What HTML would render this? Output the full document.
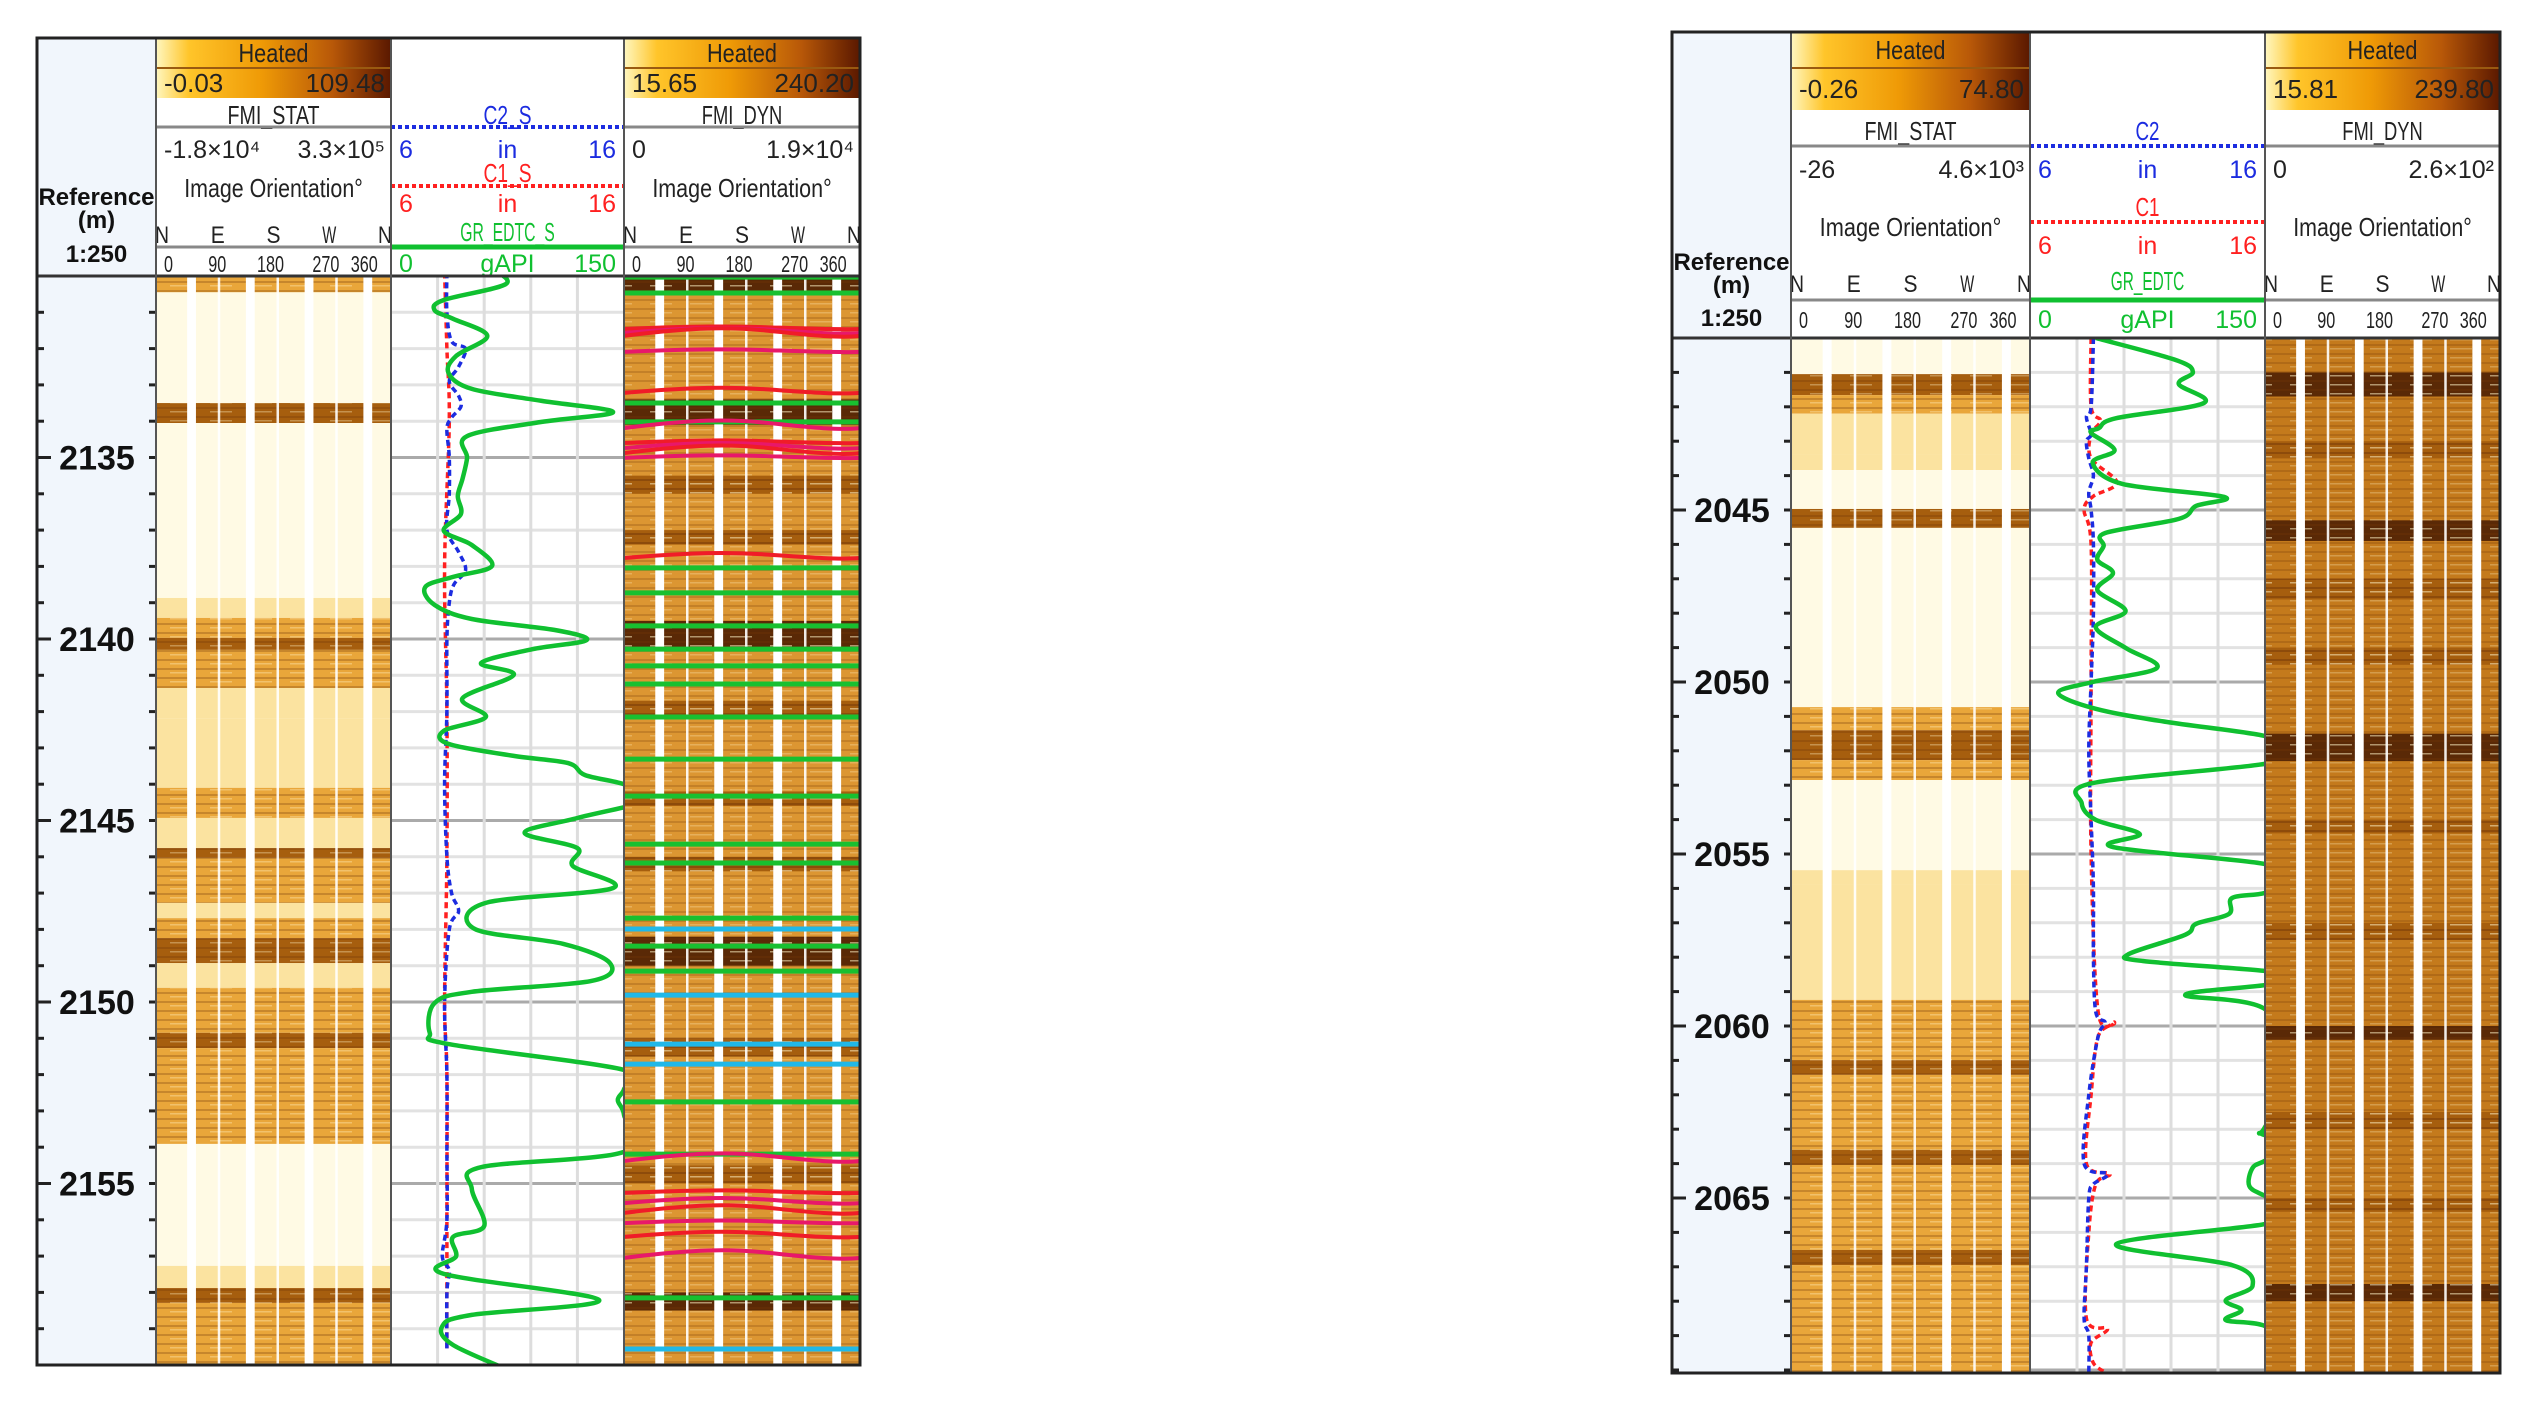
<!DOCTYPE html>
<html><head><meta charset="utf-8"><style>
html,body{margin:0;padding:0;background:#fff;}
svg{display:block;font-family:"Liberation Sans",sans-serif;}
</style></head><body>
<svg id="chart" xmlns="http://www.w3.org/2000/svg" width="2535" height="1404" viewBox="0 0 2535 1404">
<defs>
<linearGradient id="heat" x1="0" x2="1" y1="0" y2="0">
<stop offset="0" stop-color="#fff7c0"/><stop offset="0.14" stop-color="#ffc52a"/><stop offset="0.45" stop-color="#ef9a06"/><stop offset="0.75" stop-color="#b85808"/><stop offset="1" stop-color="#5a1800"/>
</linearGradient>
<pattern id="tex" width="40" height="9" patternUnits="userSpaceOnUse">
<rect x="0" y="2" width="40" height="2" fill="#6a3208" opacity="0.28"/>
<rect x="10" y="6" width="22" height="1.5" fill="#fff4c8" opacity="0.35"/>
</pattern>
</defs>
</svg>
<script>
// ---------- LEFT PANEL DATA (depth m) ----------
const grDepthL = [2129.78,2130.22,2130.66,2130.94,2131.18,2131.65,2132.20,2132.67,2133.11,2133.44,2133.75,2134.02,2134.41,2135.01,2135.59,2136.06,2136.56,2137.02,2137.41,2137.99,2138.29,2138.57,2139.06,2139.45,2139.75,2140.03,2140.28,2140.66,2140.99,2141.63,2142.15,2142.53,2142.89,2143.22,2143.42,2143.75,2144.00,2144.38,2144.93,2145.34,2145.76,2146.25,2146.86,2147.27,2147.99,2148.40,2148.93,2149.42,2149.72,2150.03,2150.85,2151.16,2151.87,2152.4,2152.7,2153.11,2154.13,2154.55,2155.15,2156.17,2156.47,2157.00,2157.49,2158.21,2158.62,2158.93,2159.45,2160.25];
const grValL   = [64,74,34,28,40,62,42,37,52,97,143,97,49,49,46,43,45,34,52,65,40,22,28,52,105,126,91,58,79,46,61,34,37,79,114,125,150,170,120,86,120,117,143,61,54,111,141,129,52,28,25,37,150,150,146,150,150,58,52,60,40,42,34,134,52,33,40,82];
const c2DepthL = [2129.9,2131,2131.8,2132,2132.5,2132.9,2133.3,2133.6,2133.9,2134.2,2135,2136,2137,2137.6,2138.1,2138.5,2139,2140,2142,2144,2146,2147,2147.5,2148,2150,2152,2154,2156,2157,2157.4,2158,2159.6];
const c2ValL   = [8.4,8.4,8.6,9.2,8.9,8.5,8.9,9.0,8.6,8.4,8.5,8.5,8.4,8.9,9.2,8.7,8.5,8.4,8.4,8.3,8.4,8.6,8.9,8.5,8.3,8.4,8.4,8.4,8.2,8.5,8.4,8.4];
const c1DepthL = [2129.9,2132,2134,2138,2142,2146,2150,2152,2156,2159.6];
const c1ValL   = [8.3,8.4,8.5,8.3,8.4,8.4,8.3,8.4,8.4,8.4];
const statTopL = [2129.9,2130.45,2133.5,2134.05,2138.87,2139.42,2139.97,2140.3,2141.35,2142.18,2144.1,2144.93,2145.76,2146.03,2147.27,2147.69,2148.24,2148.93,2149.61,2150.85,2151.27,2153.91,2157.27,2157.88,2158.29];
const statBotL = [2130.45,2133.5,2134.05,2138.87,2139.42,2139.97,2140.3,2141.35,2142.18,2144.1,2144.93,2145.76,2146.03,2147.27,2147.69,2148.24,2148.93,2149.61,2150.85,2151.27,2153.91,2157.27,2157.88,2158.29,2160];
const statToneL= [2,0,3,0,1,2,3,2,1,1,2,1,3,2,1,2,3,1,2,3,2,0,1,3,2];
const dynTopL  = [2129.9,2133.4,2135.5,2137,2139.5,2141.7,2144.2,2146,2148.2,2151,2154.5,2158];
const dynBotL  = [2130.5,2134.1,2136,2137.4,2140.3,2142.1,2144.6,2146.4,2149,2151.5,2155,2158.5];
const dynToneL = [4,4,3,3,4,3,3,3,4,3,3,4];
const greenDipsL = [2130.03,2130.47,2133.50,2134.02,2138.04,2138.73,2139.64,2140.28,2140.74,2141.24,2142.15,2143.31,2144.33,2145.65,2146.17,2147.69,2148.46,2149.15,2152.75,2154.19,2158.15];
const cyanDipsL  = [2147.99,2149.81,2151.16,2151.71,2159.56];
const redDipsL   = [2131.46,2131.57,2131.65,2132.09,2133.22,2134.19,2134.60,2134.74,2134.88,2135.01,2137.77,2154.38,2155.26,2155.54,2155.81,2156.09,2156.47,2157.05];
const depthLabelsL = [2135,2140,2145,2150,2155];

// ---------- RIGHT PANEL DATA ----------
const grDepthR = [2040.00,2040.64,2040.99,2041.34,2041.89,2042.33,2042.62,2042.76,2043.26,2043.63,2044.24,2044.62,2044.88,2045.26,2045.67,2046.05,2046.45,2046.83,2047.33,2047.94,2048.40,2049.01,2049.59,2050.00,2050.32,2050.78,2051.16,2051.57,2051.98,2052.38,2052.94,2053.52,2054.01,2054.42,2054.80,2055.29,2055.76,2056.13,2056.28,2056.74,2057.03,2057.35,2057.91,2058.11,2058.40,2058.60,2058.81,2059.10,2059.51,2061.28,2062.94,2063.14,2063.46,2063.92,2064.13,2064.65,2064.94,2065.35,2065.76,2066.34,2066.95,2067.56,2067.97,2068.26,2068.55,2068.72,2069.42,2070.17];
const grValR   = [42,93,104,95,111,55,44,39,54,40,59,124,106,95,48,47,43,53,43,61,42,61,81,40,18,42,87,150,170,150,40,33,42,70,53,150,170,150,129,127,106,99,63,72,150,170,150,99,150,170,150,148,170,150,142,140,150,170,150,55,129,142,125,135,125,150,170,170];
const c2DepthR = [2040,2042,2042.3,2042.8,2043,2043.5,2044,2044.5,2045,2046,2048,2050,2052,2054,2056,2058,2059.6,2059.9,2060.3,2062,2064,2064.3,2064.6,2065,2067,2068.5,2069,2070.1];
const c2ValR   = [8.7,8.6,8.4,8.6,8.4,8.5,8.7,8.5,8.6,8.7,8.7,8.6,8.5,8.6,8.7,8.7,8.8,9.2,8.9,8.5,8.3,9.3,8.7,8.5,8.4,8.3,8.5,8.5];
const c1DepthR = [2040,2042,2042.4,2042.8,2043.5,2044.2,2044.6,2045,2046,2050,2055,2059.6,2059.9,2060.3,2062,2064,2064.3,2064.6,2066,2068.5,2068.8,2069.2,2069.8,2070.1];
const c1ValR   = [8.6,8.6,9.0,8.6,8.6,9.7,8.7,8.3,8.6,8.6,8.6,8.9,9.6,8.9,8.6,8.4,9.4,8.8,8.5,8.4,9.3,8.6,8.7,9.3];
const statTopR = [2040,2041.05,2041.66,2042.2,2043.4,2043.84,2044.97,2045.52,2050.73,2051.4,2052.27,2052.85,2055.47,2055.9,2059.24,2060.99,2061.42,2063.6,2064.04,2066.51,2066.95];
const statBotR = [2041.05,2041.66,2042.2,2043.4,2043.84,2044.97,2045.52,2050.73,2051.4,2052.27,2052.85,2055.47,2055.9,2059.24,2060.99,2061.42,2063.6,2064.04,2066.51,2066.95,2070.1];
const statToneR= [0,3,2,1,1,0,3,0,2,3,2,0,1,1,2,3,2,3,2,3,2];
const dynTopR  = [2041,2043,2045.3,2047,2049,2051.5,2054,2057,2060,2062.5,2065,2067.5];
const dynBotR  = [2041.7,2043.5,2045.9,2047.6,2049.5,2052.3,2054.4,2057.5,2060.4,2063,2065.4,2068];
const dynToneR = [4,3,4,3,3,4,3,3,4,3,3,4];
const depthLabelsR = [2045,2050,2055,2060,2065];

const TONES = ['#fffae4','#fbe3a0','#e9a63a','#a65e0e','#5a2906'];
const NS = 'http://www.w3.org/2000/svg';
const svg = document.getElementById('chart');
function mk(tag, attrs, parent){ const e=document.createElementNS(NS,tag); for(const k in attrs) e.setAttribute(k,attrs[k]); (parent||svg).appendChild(e); return e; }
function txt(x,y,s,size,fill,anchor,parent,len,weight){ const t=mk('text',{x:x,y:y,'font-size':size,fill:fill,'text-anchor':anchor||'middle'},parent); if(len){t.setAttribute('textLength',len);t.setAttribute('lengthAdjust','spacingAndGlyphs');} if(weight)t.setAttribute('font-weight',weight); t.textContent=s; return t; }
function smooth(pts){ if(pts.length<2) return ''; let d='M'+pts[0][0].toFixed(1)+','+pts[0][1].toFixed(1);
  for(let i=0;i<pts.length-1;i++){ const p0=pts[Math.max(0,i-1)],p1=pts[i],p2=pts[i+1],p3=pts[Math.min(pts.length-1,i+2)];
    const c1x=p1[0]+(p2[0]-p0[0])/6,c1y=p1[1]+(p2[1]-p0[1])/6,c2x=p2[0]-(p3[0]-p1[0])/6,c2y=p2[1]-(p3[1]-p1[1])/6;
    d+=' C'+c1x.toFixed(1)+','+c1y.toFixed(1)+' '+c2x.toFixed(1)+','+c2y.toFixed(1)+' '+p2[0].toFixed(1)+','+p2[1].toFixed(1);} return d; }

function panel(P){
  const g=mk('g',{});
  
  
  const yOf=d=>P.hb+(d-P.d0)*P.ppm;
  const bottom=P.bottom;
  const [xr,xs,xc,xd,xe]=P.cols;
  const refbg=mk('rect',{x:xr,y:P.top,width:xs-xr,height:bottom-P.top,fill:'#f1f6fc'},g);
  
  
  txt((xr+xs)/2,P.refY[0],'Reference',24,'#111','middle',g,null,'bold');
  txt((xr+xs)/2,P.refY[1],'(m)',24,'#111','middle',g,null,'bold');
  const sc=txt((xr+xs)/2,P.refY[2],'1:250',24,'#111','middle',g,null,'bold');
  
  
  function imageTrack(x0,x1,tops,bots,tones,base,name){
    const tg=mk('g',{},g);
    
    
    if(base) mk('rect',{x:x0,y:P.hb,width:x1-x0,height:bottom-P.hb,fill:base},tg);
    for(let i=0;i<tops.length;i++){
      const y0=Math.max(P.hb,yOf(tops[i])), y1=Math.min(bottom,yOf(bots[i]));
      const r=mk('rect',{x:x0,y:y0,width:x1-x0,height:Math.max(0,y1-y0),fill:TONES[tones[i]]},tg);
      
      
      if(tones[i]>=2) mk('rect',{x:x0,y:y0,width:x1-x0,height:Math.max(0,y1-y0),fill:'url(#tex)'},tg);
    }
    if(base) mk('rect',{x:x0,y:P.hb,width:x1-x0,height:bottom-P.hb,fill:'url(#tex)',opacity:0.8},tg);
    const per=(x1-x0)/4;
    for(let k=0;k<4;k++){
      mk('rect',{x:x0+k*per+per*0.53,y:P.hb,width:per*0.15,height:bottom-P.hb,fill:'#ffffff'},tg);
      if(k>0) mk('rect',{x:x0+k*per+3,y:P.hb,width:2.5,height:bottom-P.hb,fill:'#ffffff',opacity:0.9},tg);
    }
  }
  imageTrack(xs,xc,P.sTop,P.sBot,P.sTone,null,'fmi-stat-image-track');
  imageTrack(xd,xe,P.dTop,P.dBot,P.dTone,P.dynBase,'fmi-dyn-image-track');
  if(P.green){
    const dg=mk('g',{},g);
    
    
    P.green.forEach(d=>{ const y=yOf(d); const l=mk('line',{x1:xd,x2:xe,y1:y,y2:y,stroke:'#18c030','stroke-width':5},dg);
      
       });
    P.cyan.forEach(d=>{ const y=yOf(d); const l=mk('line',{x1:xd,x2:xe,y1:y,y2:y,stroke:'#20b8e8','stroke-width':5},dg);
      
       });
    P.red.forEach((d,i)=>{ const y=yOf(d); const a=(i%3)*3+3; const w=xe-xd;
      const p=`M${xd},${y} C${xd+w*0.3},${y-a} ${xd+w*0.45},${y-a} ${xd+w*0.6},${y-a*0.6} S${xe-w*0.1},${y+a*0.3} ${xe},${y}`;
      const l=mk('path',{d:p,stroke:i%2?'#e8186a':'#f01c28','stroke-width':4,fill:'none'},dg);
      
       });
  }
  const cg=mk('g',{},g);
  
  
  for(let d=Math.ceil(P.d0); yOf(d)<bottom; d++){ const y=yOf(d); if(y<=P.hb+1) continue;
    mk('line',{x1:xc,x2:xd,y1:y,y2:y,stroke:(d%5===0)?'#aaaaaa':'#e2e2e2','stroke-width':3},cg); }
  for(let k=1;k<5;k++){ const x=xc+(xd-xc)*k/5; mk('line',{x1:x,x2:x,y1:P.hb,y2:bottom,stroke:'#dddddd','stroke-width':3},cg); }
  const cid='clip'+P.id;
  const cp=mk('clipPath',{id:cid},svg); mk('rect',{x:xc,y:P.hb,width:xd-xc,height:bottom-P.hb},cp);
  const xGR=v=>xc+(xd-xc)*v/150, xCal=v=>xc+(xd-xc)*(v-6)/10;
  const c1=mk('path',{d:smooth(P.c1D.map((d,i)=>[xCal(P.c1V[i]),yOf(d)])),stroke:'#ff2020','stroke-width':3.5,fill:'none','stroke-dasharray':'6 4','clip-path':`url(#${cid})`},cg);
  
  
  const c2=mk('path',{d:smooth(P.c2D.map((d,i)=>[xCal(P.c2V[i]),yOf(d)])),stroke:'#1c2ce0','stroke-width':3.5,fill:'none','stroke-dasharray':'6 4','clip-path':`url(#${cid})`},cg);
  
  
  const gr=mk('path',{d:smooth(P.grD.map((d,i)=>[xGR(P.grV[i]),yOf(d)])),stroke:'#10c030','stroke-width':4.5,fill:'none','clip-path':`url(#${cid})`},cg);
  
  
  for(let d=Math.ceil(P.d0); yOf(d)<bottom; d++){ const y=yOf(d); if(y<=P.hb+2) continue;
    mk('line',{x1:xr,x2:xr+7,y1:y,y2:y,stroke:'#222','stroke-width':3},g);
    mk('line',{x1:xs-7,x2:xs,y1:y,y2:y,stroke:'#222','stroke-width':3},g); }
  P.labels.forEach(d=>{ const y=yOf(d); mk('line',{x1:xr,x2:xr+14,y1:y,y2:y,stroke:'#222','stroke-width':3},g);
    const t=txt(xr+P.labX,y+12,String(d),34,'#111','middle',g,null,'bold');
    
     });
  const H=P.h;
  [[xs,xc,P.stat,'fmi-stat-header'],[xd,xe,P.dyn,'fmi-dyn-header']].forEach(([a,b,info,nm])=>{
    const hg=mk('g',{},g);
    
    
    mk('rect',{x:a,y:P.top,width:b-a,height:H.r1-P.top,fill:'url(#heat)'},hg);
    mk('rect',{x:a,y:H.r1,width:b-a,height:H.r2-H.r1,fill:'url(#heat)'},hg);
    mk('line',{x1:a,x2:b,y1:H.r1,y2:H.r1,stroke:'#9a5a10','stroke-width':2},hg);
    const cw=(b-a);
    txt((a+b)/2,(P.top+H.r1)/2+9,'Heated',26,'#222','middle',hg,70);
    txt(a+8,(H.r1+H.r2)/2+9,info.lo,26,'#222','start',hg);
    txt(b-6,(H.r1+H.r2)/2+9,info.hi,26,'#222','end',hg);
    txt((a+b)/2,H.nameY,info.name,26,'#222','middle',hg,info.name.length*11.5);
    mk('line',{x1:a,x2:b,y1:H.l1,y2:H.l1,stroke:'#888','stroke-width':3},hg);
    txt(a+8,H.scY,info.slo,25,'#222','start',hg);
    const hi=txt(b-6,H.scY,'',25,'#222','end',hg); hi.textContent=info.shi;
    txt((a+b)/2,H.ioY,'Image Orientation°',26,'#222','middle',hg,cw*0.76);
    ['N','E','S','W','N'].forEach((c,i)=>{ const x=a+6+(cw-12)*i/4; txt(x,H.nY,c,24,'#222','middle',hg,14); });
    mk('line',{x1:a,x2:b,y1:H.l2,y2:H.l2,stroke:'#888','stroke-width':3},hg);
    ['0','90','180','270','360'].forEach((c,i)=>{ const x=a+8+(cw-22)*[0,0.25,0.5,0.76,0.94][i]; txt(x,H.dY,c,23,'#222',i===0?'start':'middle',hg,c.length*9); });
  });
  const ch=mk('g',{},g);
  
  
  txt((xc+xd)/2,H.c2Y,P.c2n,26,'#1c2ce0','middle',ch,P.c2n.length*12);
  mk('line',{x1:xc,x2:xd,y1:H.l1,y2:H.l1,stroke:'#1c2ce0','stroke-width':4,'stroke-dasharray':'4 3'},ch);
  [['6','start',xc+8],['in','middle',(xc+xd)/2],['16','end',xd-8]].forEach(([s,an,x])=>txt(x,H.s2Y,s,25,'#1c2ce0',an,ch));
  txt((xc+xd)/2,H.c1Y,P.c1n,26,'#ff2020','middle',ch,P.c1n.length*12);
  mk('line',{x1:xc,x2:xd,y1:H.lr,y2:H.lr,stroke:'#ff2020','stroke-width':4,'stroke-dasharray':'4 3'},ch);
  [['6','start',xc+8],['in','middle',(xc+xd)/2],['16','end',xd-8]].forEach(([s,an,x])=>txt(x,H.s1Y,s,25,'#ff2020',an,ch));
  txt((xc+xd)/2,H.nY-2,P.grn,26,'#10c030','middle',ch,P.grn.length*10.5);
  mk('line',{x1:xc,x2:xd,y1:H.l2,y2:H.l2,stroke:'#10c030','stroke-width':5},ch);
  [['0','start',xc+8],['gAPI','middle',(xc+xd)/2],['150','end',xd-8]].forEach(([s,an,x])=>txt(x,H.dY,s,25,'#10c030',an,ch));
  mk('line',{x1:xr,x2:xe,y1:P.hb,y2:P.hb,stroke:'#333','stroke-width':3},g);
  [xs,xc,xd].forEach(x=>mk('line',{x1:x,x2:x,y1:P.top,y2:bottom,stroke:'#555','stroke-width':2},g));
  mk('rect',{x:xr,y:P.top,width:xe-xr,height:bottom-P.top,fill:'none',stroke:'#222','stroke-width':3},g);
}

panel({id:'left',top:38,hb:276,bottom:1365,d0:2130,ppm:36.3,cols:[37,156,391,624,860],refY:[205,228,262],labX:60,
  h:{r1:68,r2:98,nameY:124,l1:127,scY:158,ioY:197,nY:243,l2:247,dY:272,c2Y:124,s2Y:158,c1Y:182,lr:186,s1Y:212},
  stat:{lo:'-0.03',hi:'109.48',name:'FMI_STAT',slo:'-1.8×10⁴',shi:'3.3×10⁵'},
  dyn:{lo:'15.65',hi:'240.20',name:'FMI_DYN',slo:'0',shi:'1.9×10⁴'},
  c2n:'C2_S',c1n:'C1_S',grn:'GR_EDTC_S',
  grD:grDepthL,grV:grValL,c1D:c1DepthL,c1V:c1ValL,c2D:c2DepthL,c2V:c2ValL,
  sTop:statTopL,sBot:statBotL,sTone:statToneL,dTop:dynTopL,dBot:dynBotL,dTone:dynToneL,dynBase:'#dc9632',
  green:greenDipsL,cyan:cyanDipsL,red:redDipsL,labels:depthLabelsL});

panel({id:'right',top:32,hb:338,bottom:1373,d0:2040,ppm:34.4,cols:[1672,1791,2030,2265,2500],refY:[270,293,326],labX:60,
  h:{r1:68,r2:110,nameY:140,l1:146,scY:178,ioY:236,nY:292,l2:300,dY:328,c2Y:140,s2Y:178,c1Y:216,lr:222,s1Y:254},
  stat:{lo:'-0.26',hi:'74.80',name:'FMI_STAT',slo:'-26',shi:'4.6×10³'},
  dyn:{lo:'15.81',hi:'239.80',name:'FMI_DYN',slo:'0',shi:'2.6×10²'},
  c2n:'C2',c1n:'C1',grn:'GR_EDTC',
  grD:grDepthR,grV:grValR,c1D:c1DepthR,c1V:c1ValR,c2D:c2DepthR,c2V:c2ValR,
  sTop:statTopR,sBot:statBotR,sTone:statToneR,dTop:dynTopR,dBot:dynBotR,dTone:dynToneR,dynBase:'#c47a1c',
  green:null,labels:depthLabelsR});
</script>
</body></html>
